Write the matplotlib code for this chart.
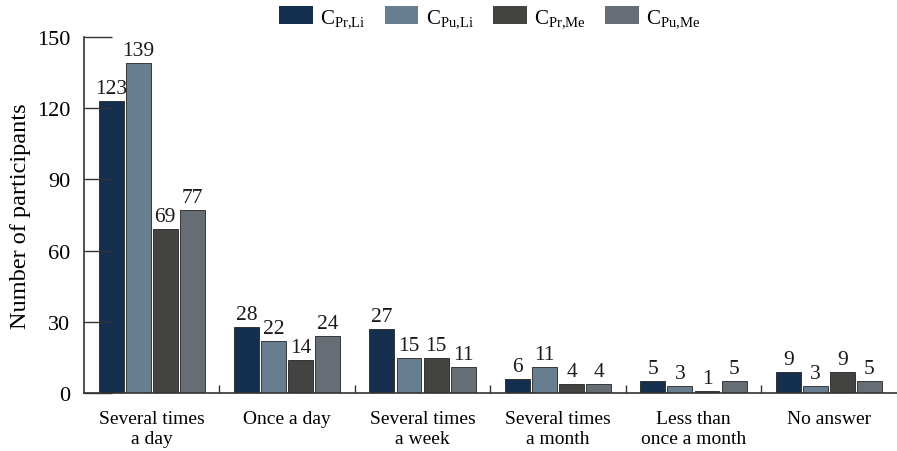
import matplotlib
matplotlib.use("Agg")
import matplotlib.pyplot as plt
import numpy as np
from matplotlib.patches import Patch

plt.rcParams['font.family'] = ['Liberation Serif', 'DejaVu Serif']
plt.rcParams['mathtext.fontset'] = 'custom'
plt.rcParams['mathtext.rm'] = 'Liberation Serif'
plt.rcParams['mathtext.it'] = 'Liberation Serif:italic'

categories = ["Several times\na day", "Once a day", "Several times\na week",
              "Several times\na month", "Less than\nonce a month", "No answer"]
series_names = [r"C$_{\mathrm{Pr{,}Li}}$", r"C$_{\mathrm{Pu{,}Li}}$",
                r"C$_{\mathrm{Pr{,}Me}}$", r"C$_{\mathrm{Pu{,}Me}}$"]
c_pr_li = [123, 28, 27, 6, 5, 9]
c_pu_li = [139, 22, 15, 11, 3, 3]
c_pr_me = [69, 14, 15, 4, 1, 9]
c_pu_me = [77, 24, 11, 4, 5, 5]
series = [c_pr_li, c_pu_li, c_pr_me, c_pu_me]
colors = ["#15304e", "#677d90", "#434341", "#676d75"]
yticks = [0, 30, 60, 90, 120, 150]

fig = plt.figure(figsize=(8.97, 4.52), dpi=100)
ax = fig.add_axes([0.0936, 0.128, 0.906, 0.788])

x = np.arange(len(categories))
width = 0.184
step = 0.2
for i, (vals, col) in enumerate(zip(series, colors)):
    pos = x + (i - 1.5) * step
    ax.bar(pos, vals, width=width, color=col, edgecolor="#222222", linewidth=0.6)
    for p, v in zip(pos, vals):
        ax.text(p, v + 1.2, str(v), ha="center", va="bottom", fontsize=15.5, color="#1a1a1a")

ax.set_xlim(-0.5, len(categories) - 0.5)
ax.set_ylim(0, 150)
ax.set_yticks(yticks)
ax.set_yticklabels([str(t) for t in yticks], fontsize=16)
ax.tick_params(axis='y', direction='in', length=20, width=1, color="#333333", pad=10)
ax.set_xticks(x)
ax.set_xticklabels(categories, fontsize=14, linespacing=1.25)
ax.tick_params(axis='x', which='major', length=0, pad=12)
ax.set_xticks(np.arange(0.5, len(categories) - 0.5, 1.0), minor=True)
ax.tick_params(axis='x', which='minor', direction='in', length=6, width=1, color="#333333")
for s in ["top", "right"]:
    ax.spines[s].set_visible(False)
for s in ["left", "bottom"]:
    ax.spines[s].set_color("#333333")
    ax.spines[s].set_linewidth(1.2)
ax.set_ylabel("Number of participants", fontsize=17.5, labelpad=4)

handles = [Patch(facecolor=c, edgecolor="none") for c in colors]
fig.legend(handles, series_names, loc="upper center", bbox_to_anchor=(0.546, 1.025),
           ncol=4, frameon=False, fontsize=15, handlelength=1.6, handleheight=0.95,
           columnspacing=0.95, handletextpad=0.35)

fig.savefig("out.png", dpi=100)
